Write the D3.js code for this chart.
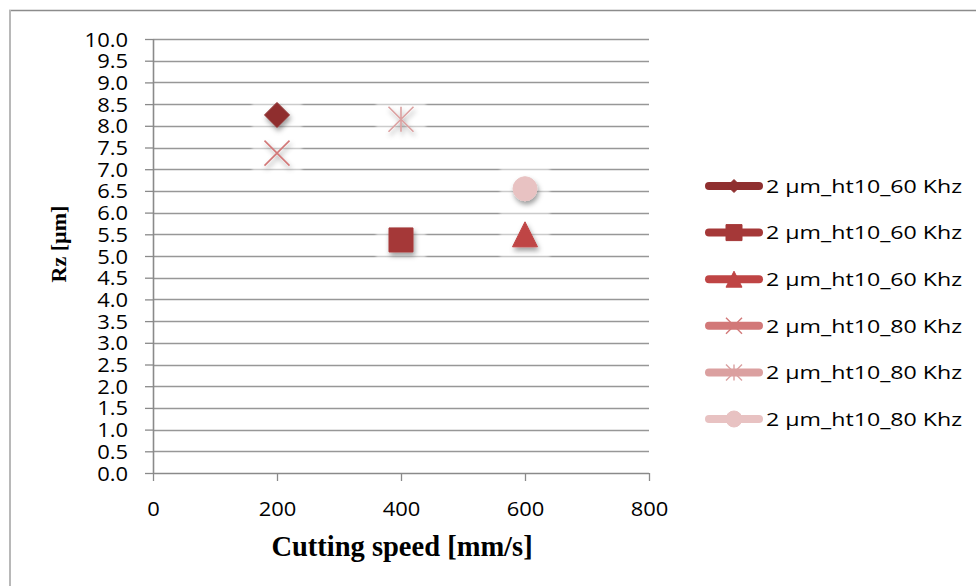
<!DOCTYPE html>
<html>
<head>
<meta charset="utf-8">
<script src="https://cdn.jsdelivr.net/npm/d3@7"></script>
<style>
  html, body { margin: 0; padding: 0; background: #fff; }
  svg { display: block; }
</style>
</head>
<body>
<svg id="chart" width="976" height="586"></svg>
<script>
// ---- data ----
const seriesNames = [
  "2 µm_ht10_60 Khz",
  "2 µm_ht10_60 Khz",
  "2 µm_ht10_60 Khz",
  "2 µm_ht10_80 Khz",
  "2 µm_ht10_80 Khz",
  "2 µm_ht10_80 Khz"
];
const cuttingSpeed = [200, 400, 600, 200, 400, 600];
const rzValues = [8.25, 5.37, 5.5, 7.37, 8.15, 6.55];
const markerTypes = ["diamond", "square", "triangle", "cross", "star", "circle"];
const seriesColors = ["#8f2f2f", "#a53838", "#bf4444", "#d27878", "#dba0a0", "#e8c2c2"];
const xTickValues = [0, 200, 400, 600, 800];
const yTickValues = d3.range(0, 10.0001, 0.5);

// ---- layout ----
const svg = d3.select("#chart");
const plot = { left: 153, right: 649, top: 39, bottom: 473 };
const sansFont = "'Open Sans', 'Liberation Sans', sans-serif";
const serifFont = "'Liberation Serif', 'Times New Roman', serif";
const tickStretch = 1.12;

const x = d3.scaleLinear().domain([0, 800]).range([plot.left, plot.right]);
const y = d3.scaleLinear().domain([0, 10]).range([plot.bottom, plot.top]);

// chart frame (only the top and left edges fall inside the view)
svg.append("line").attr("x1", 9).attr("x2", 976).attr("y1", 10.5).attr("y2", 10.5)
  .attr("stroke", "#8c8c8c").attr("stroke-width", 1.5);
svg.append("line").attr("x1", 10).attr("x2", 10).attr("y1", 10).attr("y2", 586)
  .attr("stroke", "#b8b8b8").attr("stroke-width", 2);

const defs = svg.append("defs");
const shadow = defs.append("filter").attr("id", "shadow")
  .attr("x", "-60%").attr("y", "-60%").attr("width", "220%").attr("height", "220%");
shadow.append("feDropShadow").attr("dx", 1.5).attr("dy", 3.5).attr("stdDeviation", 2.6)
  .attr("flood-color", "#000").attr("flood-opacity", 0.38);
const halo = defs.append("filter").attr("id", "halo")
  .attr("x", "-30%").attr("y", "-30%").attr("width", "160%").attr("height", "160%");
halo.append("feGaussianBlur").attr("stdDeviation", 1.5);

// horizontal gridlines
svg.append("g")
  .selectAll("line")
  .data(yTickValues.filter(v => v > 0))
  .join("line")
  .attr("x1", plot.left).attr("x2", plot.right)
  .attr("y1", d => Math.round(y(d)) + 0.5).attr("y2", d => Math.round(y(d)) + 0.5)
  .attr("stroke", "#979797").attr("stroke-width", 1.4);

// y axis
const yAxis = svg.append("g")
  .attr("transform", `translate(${plot.left},0)`)
  .call(d3.axisLeft(y).tickValues(yTickValues).tickFormat(d3.format(".1f")).tickSize(8));
yAxis.select(".domain").attr("stroke", "#8a8a8a").attr("stroke-width", 1.6)
  .attr("d", `M0.5,${plot.top}V${plot.bottom}`);
yAxis.selectAll(".tick line").attr("stroke", "#8a8a8a").attr("stroke-width", 1.3);
yAxis.selectAll(".tick text")
  .attr("font-family", sansFont).attr("font-size", 19.6).attr("fill", "#000")
  .attr("x", null).attr("dy", "0.36em")
  .attr("transform", `translate(-25,0) scale(${tickStretch},1)`);

// x axis
const xAxis = svg.append("g")
  .attr("transform", `translate(0,${plot.bottom})`)
  .call(d3.axisBottom(x).tickValues(xTickValues).tickFormat(d3.format("d")).tickSize(8));
xAxis.select(".domain").attr("stroke", "#8a8a8a").attr("stroke-width", 1.6)
  .attr("d", `M${plot.left},0.5H${plot.right}`);
xAxis.selectAll(".tick line").attr("stroke", "#8a8a8a").attr("stroke-width", 1.3);
xAxis.selectAll(".tick text")
  .attr("font-family", sansFont).attr("font-size", 19.6).attr("fill", "#000")
  .attr("y", null).attr("dy", null)
  .attr("transform", `translate(0,43) scale(${tickStretch},1)`);

// axis titles
svg.append("text")
  .attr("transform", `translate(${(plot.left + plot.right) / 2 + 1},556)`)
  .attr("text-anchor", "middle")
  .attr("font-family", serifFont).attr("font-weight", "bold").attr("font-size", 28.5)
  .text("Cutting speed [mm/s]");
svg.append("text")
  .attr("transform", "translate(66,244) rotate(-90)")
  .attr("text-anchor", "middle")
  .attr("font-family", serifFont).attr("font-weight", "bold").attr("font-size", 22)
  .text("Rz [µm]");

// marker shapes, size = full width in px
function markerPath(type, s) {
  const h = s / 2;
  switch (type) {
    case "diamond": return `M0,${-h}L${h},0L0,${h}L${-h},0Z`;
    case "square": return `M${-h},${-h}H${h}V${h}H${-h}Z`;
    case "triangle": return `M0,${-h}L${h},${h}H${-h}Z`;
    case "circle": return `M${h},0A${h},${h} 0 1,1 ${-h},0A${h},${h} 0 1,1 ${h},0Z`;
    case "cross": return `M${-h},${-h}L${h},${h}M${h},${-h}L${-h},${h}`;
    case "star": return `M${-h},${-h}L${h},${h}M${h},${-h}L${-h},${h}M0,${-h}V${h}`;
  }
}
const isStroked = t => t === "cross" || t === "star";

const points = cuttingSpeed.map((s, i) => ({
  speed: s, rz: rzValues[i], type: markerTypes[i], color: seriesColors[i]
}));

// faint white glow behind each marker
svg.append("g").selectAll("rect")
  .data(points)
  .join("rect")
  .attr("x", d => x(d.speed) - 25).attr("y", d => y(d.rz) - 22)
  .attr("width", 50).attr("height", 46)
  .attr("fill", "#fff").attr("opacity", 0.5)
  .attr("filter", "url(#halo)");

// markers
svg.append("g").selectAll("path")
  .data(points)
  .join("path")
  .attr("transform", d => `translate(${x(d.speed)},${y(d.rz)})`)
  .attr("d", d => markerPath(d.type, d.type === "circle" ? 24 : (d.type === "square" ? 24 : 25)))
  .attr("fill", d => isStroked(d.type) ? "none" : d.color)
  .attr("stroke", d => d.color)
  .attr("stroke-width", d => isStroked(d.type) ? 1.6 : 1)
  .attr("filter", "url(#shadow)");

// legend
const legendTop = 186, legendStep = 46.6;
const legend = svg.append("g");
const items = legend.selectAll("g")
  .data(seriesNames.map((n, i) => ({ name: n, type: markerTypes[i], color: seriesColors[i] })))
  .join("g")
  .attr("transform", (d, i) => `translate(0,${legendTop + i * legendStep})`);
items.append("line")
  .attr("x1", 709).attr("x2", 759).attr("y1", 0).attr("y2", 0)
  .attr("stroke", d => d.color).attr("stroke-width", 8).attr("stroke-linecap", "round");
items.append("path")
  .attr("transform", "translate(734,0)")
  .attr("d", d => markerPath(d.type, d.type === "diamond" ? 13 : 16))
  .attr("fill", d => isStroked(d.type) ? "none" : d.color)
  .attr("stroke", d => d.color)
  .attr("stroke-width", d => isStroked(d.type) ? 1.4 : 1);
items.append("text")
  .attr("transform", `translate(766,0) scale(1.22,1)`)
  .attr("dy", "0.36em")
  .attr("font-family", sansFont).attr("font-size", 19).attr("fill", "#000")
  .text(d => d.name);
</script>
</body>
</html>
